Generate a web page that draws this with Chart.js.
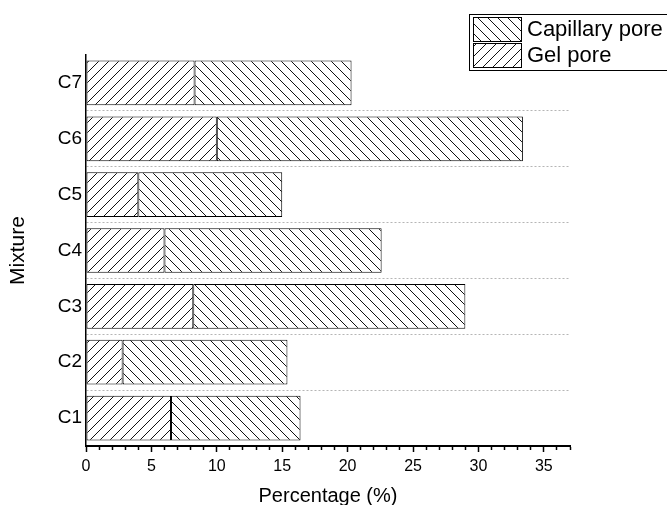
<!DOCTYPE html>
<html>
<head>
<meta charset="utf-8">
<script src="https://cdn.jsdelivr.net/npm/chart.js@4.4.0/dist/chart.umd.min.js"></script>
<style>
  body { margin: 0; background: #fff; }
</style>
</head>
<body>
<canvas id="poreChart" width="667" height="505"></canvas>
<script>
// Data
const categories = ['C1', 'C2', 'C3', 'C4', 'C5', 'C6', 'C7'];
const gelPore = [6.5, 2.8, 8.2, 6.0, 4.0, 10.0, 8.3];
const capillaryPore = [9.9, 12.6, 20.8, 16.6, 11.0, 23.4, 12.0];
const xMax = 37;

// Build a hatch pattern: '/' or '\'
function hatch(dir) {
    const c = document.createElement('canvas');
    c.width = 10;
    c.height = 10;
    const g = c.getContext('2d');
    g.fillStyle = '#fff';
    g.fillRect(0, 0, 10, 10);
    g.strokeStyle = '#111';
    g.lineWidth = 1;
    g.beginPath();
    if (dir === '/') {
        g.moveTo(0, 10); g.lineTo(10, 0);
        g.moveTo(-5, 5); g.lineTo(5, -5);
        g.moveTo(5, 15); g.lineTo(15, 5);
    } else {
        g.moveTo(0, 0); g.lineTo(10, 10);
        g.moveTo(-5, 5); g.lineTo(5, 15);
        g.moveTo(5, -5); g.lineTo(15, 5);
    }
    g.stroke();
    return g.createPattern(c, 'repeat');
}

// Boxed legend in the top right corner
const boxLegend = {
    id: 'boxLegend',
    afterDraw(chart) {
        const ctx = chart.ctx;
        ctx.save();
        ctx.strokeStyle = '#000';
        ctx.lineWidth = 1;
        ctx.strokeRect(469.5, 14.5, 200, 56);
        const items = chart.data.datasets.slice().reverse();
        items.forEach((ds, i) => {
            const y = 17 + i * 26;
            ctx.fillStyle = ds.backgroundColor;
            ctx.fillRect(473, y, 48, 24);
            ctx.strokeRect(473.5, y + 0.5, 48, 24);
            ctx.fillStyle = '#000';
            ctx.font = '22px "Liberation Sans", Arial, sans-serif';
            ctx.textBaseline = 'middle';
            ctx.textAlign = 'left';
            ctx.fillText(ds.label, 527, y + 13);
        });
        ctx.restore();
    }
};

function createChart() {
    const ctx = document.getElementById('poreChart').getContext('2d');
    const font = '"Liberation Sans", Arial, sans-serif';

    new Chart(ctx, {
        type: 'bar',
        data: {
            labels: categories,
            datasets: [{
                label: 'Gel pore',
                data: gelPore,
                backgroundColor: hatch('/'),
                borderColor: '#000',
                borderWidth: 1,
                borderSkipped: false
            }, {
                label: 'Capillary pore',
                data: capillaryPore,
                backgroundColor: hatch('\\'),
                borderColor: '#000',
                borderWidth: 1,
                borderSkipped: false
            }]
        },
        options: {
            indexAxis: 'y',
            responsive: false,
            animation: false,
            categoryPercentage: 0.8,
            barPercentage: 1,
            layout: {
                padding: { top: 55, right: 97, left: 0, bottom: 0 }
            },
            plugins: {
                legend: { display: false },
                tooltip: { enabled: false }
            },
            scales: {
                x: {
                    type: 'linear',
                    stacked: true,
                    min: 0,
                    max: xMax,
                    afterFit: s => { s.height = 59; },
                    ticks: {
                        stepSize: 1,
                        autoSkip: false,
                        maxRotation: 0,
                        padding: 5,
                        color: '#000',
                        font: { family: font, size: 16 },
                        callback: v => (v % 5 === 0 ? v : '')
                    },
                    grid: {
                        drawOnChartArea: false,
                        drawTicks: true,
                        tickLength: 6,
                        tickColor: '#000',
                        tickWidth: 1.5,
                        tickBorderDash: c => (c.tick && c.tick.value % 5 === 0 ? [] : [3, 100])
                    },
                    border: { color: '#000', width: 2 },
                    title: {
                        display: true,
                        text: 'Percentage (%)',
                        color: '#000',
                        font: { family: font, size: 20 },
                        padding: { top: 0, bottom: -3 }
                    }
                },
                y: {
                    stacked: true,
                    reverse: true,
                    afterFit: s => { s.width = 86; },
                    ticks: {
                        padding: 4,
                        color: '#000',
                        font: { family: font, size: 19 }
                    },
                    grid: {
                        drawTicks: false,
                        lineWidth: 1,
                        color: c => (c.index === undefined || c.index === 0 ? 'transparent' : '#b5b5b5')
                    },
                    border: { color: '#000', width: 1.5, dash: [2, 2] },
                    title: {
                        display: true,
                        text: 'Mixture',
                        color: '#000',
                        font: { family: font, size: 21 },
                        padding: { top: 6, bottom: 0 }
                    }
                }
            }
        },
        plugins: [boxLegend]
    });
}

window.onload = function () {
    createChart();
};
</script>
</body>
</html>
